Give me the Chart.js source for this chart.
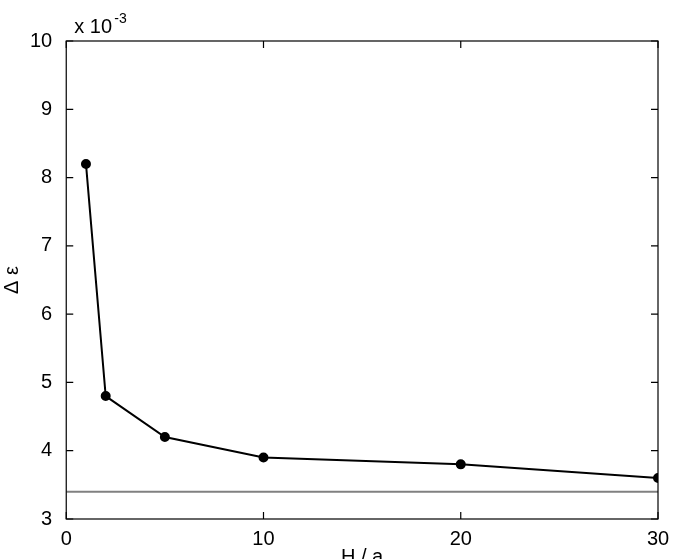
<!DOCTYPE html>
<html><head><script src="https://cdn.jsdelivr.net/npm/chart.js"></script>
<style>html,body{margin:0;padding:0;background:#fff}#w{width:675px;height:559px}</style></head>
<body><div id="w"><canvas id="c"></canvas></div>
<script>
const xValues=[1,2,5,10,20,30];
const deltaEps=[8.2,4.8,4.2,3.9,3.8,3.6];
const refLevel=3.4;
const xTicks=[0,10,20,30];
const yTicks=[3,4,5,6,7,8,9,10];
const font={family:'Liberation Sans, Arial',size:20};
const frame={id:'frame',afterDatasetsDraw(ch){const {ctx,chartArea:a,scales:{x,y}}=ch;ctx.save();ctx.strokeStyle='#000';ctx.lineWidth=1.2;
ctx.strokeRect(a.left,a.top,a.right-a.left,a.bottom-a.top);const L=7;
xTicks.forEach(v=>{const p=x.getPixelForValue(v);ctx.beginPath();ctx.moveTo(p,a.bottom);ctx.lineTo(p,a.bottom-L);ctx.moveTo(p,a.top);ctx.lineTo(p,a.top+L);ctx.stroke();});
yTicks.forEach(v=>{const p=y.getPixelForValue(v);ctx.beginPath();ctx.moveTo(a.left,p);ctx.lineTo(a.left+L,p);ctx.moveTo(a.right,p);ctx.lineTo(a.right-L,p);ctx.stroke();});
ctx.fillStyle='#000';ctx.font='20px Liberation Sans, Arial';ctx.textBaseline='alphabetic';ctx.fillText('x 10',a.left+8,a.top-8);ctx.font='14px Liberation Sans, Arial';ctx.fillText('-3',a.left+48,a.top-18);ctx.restore();}};
new Chart(document.getElementById('c'),{type:'scatter',
data:{datasets:[
{data:xValues.map((v,i)=>({x:v,y:deltaEps[i]})),showLine:true,borderColor:'#000',backgroundColor:'#000',borderWidth:2,pointRadius:4,pointHoverRadius:4},
{data:[{x:0,y:refLevel},{x:30,y:refLevel}],showLine:true,borderColor:'#808080',borderWidth:2,pointRadius:0}]},
options:{responsive:true,maintainAspectRatio:false,animation:false,layout:{padding:{top:41,right:17,left:0,bottom:-10}},
plugins:{legend:{display:false},tooltip:{enabled:false}},
scales:{x:{type:'linear',min:0,max:30,afterBuildTicks:s=>{s.ticks=xTicks.map(v=>({value:v}))},grid:{display:false},border:{display:false},ticks:{color:'#000',font,padding:0},
title:{display:true,text:'H / a',color:'#000',font,padding:{top:-6,bottom:0}}},
y:{min:3,max:10,afterBuildTicks:s=>{s.ticks=yTicks.map(v=>({value:v}))},grid:{display:false},border:{display:false},ticks:{color:'#000',font,padding:6},
title:{display:true,text:'Δ ε',color:'#000',font,padding:{top:0,bottom:0}}}}},
plugins:[frame]});
</script></body></html>
